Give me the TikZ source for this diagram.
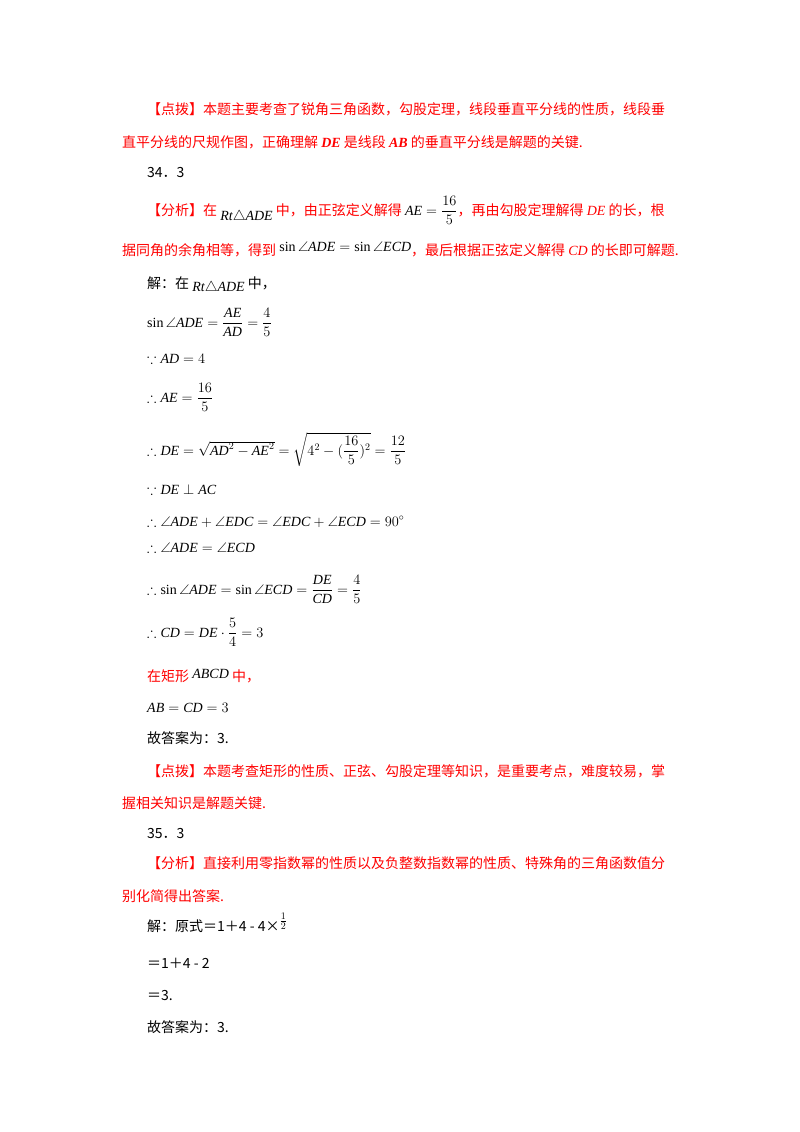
\documentclass[tikz,border=0pt]{standalone}
\usepackage{amsmath,amssymb}
\usepackage{fontspec}
\setmainfont{Liberation Serif}
\newfontfamily\cjk{Noto Sans CJK SC}
\definecolor{rd}{RGB}{255,0,0}
\newcommand{\ang}{\angle}
\begin{document}
\begin{tikzpicture}[x=1pt,y=-1pt,
  ln/.style={anchor=base west,inner sep=0pt,font=\fontsize{14}{16}\selectfont\cjk},
  rl/.style={ln,text=rd}]
\useasboundingbox (0,0) rectangle (800,1132);
\node[rl] (l1) at (147,114) {【点拨】本题主要考查了锐角三角函数，勾股定理，线段垂直平分线的性质，线段垂};
\node[rl] (l2) at (122,147) {直平分线的尺规作图，正确理解 {\rmfamily\itshape\bfseries DE} 是线段 {\rmfamily\itshape\bfseries AB} 的垂直平分线是解题的关键.};
\node[ln] (l3) at (147,177) {34．3};
\node[rl] (l4) at (147,215) {【分析】在 \raisebox{-5pt}{\color{black}\rmfamily $\mathit{Rt}\triangle \mathit{ADE}$} 中，由正弦定义解得 {\color{black}\rmfamily $\mathit{AE}=\dfrac{16}{5}$}，再由勾股定理解得 {\rmfamily\itshape DE} 的长，根};
\node[rl] (l5) at (122,255) {据同角的余角相等，得到 \raisebox{4pt}{\color{black}\rmfamily $\sin\ang \mathit{ADE}=\sin\ang \mathit{ECD}$}，最后根据正弦定义解得 {\rmfamily\itshape CD} 的长即可解题.};
\node[ln] (l6) at (147,288) {解：在 \raisebox{-3pt}{\rmfamily $\mathit{Rt}\triangle \mathit{ADE}$} 中，};
\node[ln] (l7) at (147,327) {\rmfamily $\sin\ang \mathit{ADE}=\dfrac{\mathit{AE}}{\mathit{AD}}=\dfrac45$};
\node[ln] (l8) at (147,363) {\rmfamily $\because \mathit{AD}=4$};
\node[ln] (l9) at (147,402) {\rmfamily $\therefore \mathit{AE}=\dfrac{16}{5}$};
\node[ln] (l10) at (147,455) {\rmfamily $\therefore \mathit{DE}=\sqrt{\mathit{AD}^2-\mathit{AE}^2}=\sqrt{4^2-(\dfrac{16}{5})^2}=\dfrac{12}{5}$};
\node[ln] (l11) at (147,494) {\rmfamily $\because \mathit{DE}\perp \mathit{AC}$};
\node[ln] (l12) at (147,526) {\rmfamily $\therefore \ang \mathit{ADE}+\ang \mathit{EDC}=\ang \mathit{EDC}+\ang \mathit{ECD}=90^\circ$};
\node[ln] (l13) at (147,552) {\rmfamily $\therefore \ang \mathit{ADE}=\ang \mathit{ECD}$};
\node[ln] (l14) at (147,594) {\rmfamily $\therefore \sin\ang \mathit{ADE}=\sin\ang \mathit{ECD}=\dfrac{\mathit{DE}}{\mathit{CD}}=\dfrac45$};
\node[ln] (l15) at (147,637) {\rmfamily $\therefore \mathit{CD}=\mathit{DE}\cdot\dfrac54=3$};
\node[ln,text=rd] (l16) at (147,681) {在矩形 \raisebox{3pt}{\color{black}\rmfamily\itshape ABCD} 中，};
\node[ln] (l17) at (147,712) {\rmfamily $\mathit{AB}=\mathit{CD}=3$};
\node[ln] (l18) at (147,743) {故答案为：3.};
\node[rl] (l19) at (147,776) {【点拨】本题考查矩形的性质、正弦、勾股定理等知识，是重要考点，难度较易，掌};
\node[rl] (l20) at (122,808) {握相关知识是解题关键.};
\node[ln] (l21) at (147,838) {35．3};
\node[rl] (l22) at (147,868) {【分析】直接利用零指数幂的性质以及负整数指数幂的性质、特殊角的三角函数值分};
\node[rl] (l23) at (122,901) {别化简得出答案.};
\node[ln] (l24) at (147,931) {解：原式＝1＋4 - 4×\raisebox{6pt}{\rmfamily$\frac12$}};
\node[ln] (l25) at (147,968) {＝1＋4 - 2};
\node[ln] (l26) at (147,1000) {＝3.};
\node[ln] (l27) at (147,1032) {故答案为：3.};
\end{tikzpicture}
\end{document}
